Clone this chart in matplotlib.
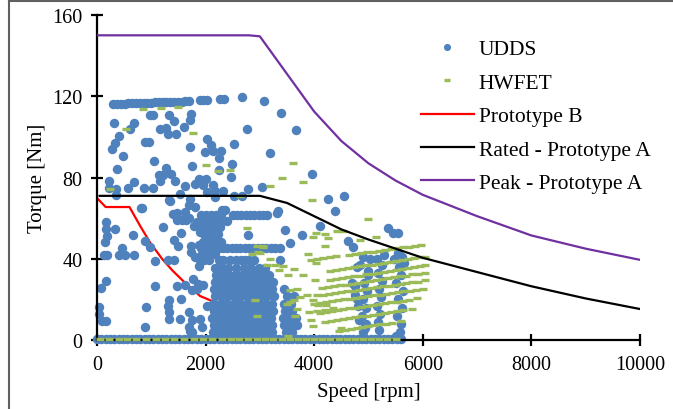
import matplotlib
matplotlib.use("Agg")
import matplotlib.pyplot as plt
from matplotlib.lines import Line2D

plt.rcParams['font.family'] = ['Liberation Serif', 'DejaVu Serif']

# torque-speed envelopes
peak_rpm = [0, 2800, 3000, 4000, 4500, 5000, 5500, 6000, 7000, 8000, 9000, 10000]
peak_nm = [150, 150, 149.5, 112.5, 98, 87, 78.5, 71.5, 61, 51.5, 45, 39.5]
rated_rpm = [50, 3000, 3500, 4000, 4500, 5000, 5500, 6000, 7000, 8000, 9000, 10000]
rated_nm = [71, 71, 67.5, 61, 54.5, 49.5, 45, 40.5, 33.5, 26.5, 20.5, 15.3]
protoB_rpm = [0, 160, 600, 800, 980, 1200, 1400, 1650, 1900, 2140, 2350]
protoB_nm = [70, 65.5, 65.5, 56, 48, 40, 34, 27.5, 21.7, 19, 16.5]

# UDDS operating points (rpm, Nm)
udds_band = [(300, 116.2), (370, 116.3), (440, 116.4), (510, 116.4), (580, 116.5), (650, 116.6),
             (720, 116.6), (790, 116.7), (860, 116.8), (930, 116.8), (1000, 116.9), (1070, 117.0),
             (1140, 117.0), (1210, 117.1), (1280, 117.1), (1350, 117.2), (1420, 117.3), (1490, 117.3),
             (1560, 117.4), (1630, 117.5), (1700, 117.6), (1900, 118.0), (1960, 118.2), (2030, 118.3),
             (2270, 118.7), (2340, 118.8), (2665, 119.8), (3080, 117.6)]
udds_upper = [(3383, 111.8), (2769, 103.7), (3660, 103.2), (307, 107), (675, 107), (614, 103.7),
              (411, 100.4), (980, 110.6), (1030, 110.6), (1320, 111), (1737, 111.4), (1719, 108.2),
              (1424, 107.7), (1166, 104), (1271, 104.6), (1308, 101.3), (1455, 101.4), (1597, 104.9),
              (337, 97.2), (276, 93.9), (890, 97.5), (950, 97.5), (1707, 95), (473, 90.6), (1044, 88),
              (368, 84.4), (1271, 84.7), (1750, 85.7), (1136, 81.4), (1210, 81.4), (1369, 81.6),
              (1155, 78.1), (1431, 78.4), (227, 78.1), (227, 74.8), (676, 77.8), (571, 74.8),
              (871, 74.8), (1026, 74.8), (350, 74.5), (350, 71.2), (1627, 75.8), (1535, 72),
              (1800, 77), (1873, 79.4), (1719, 69.6), (1332, 68.8), (816, 65), (1689, 66.3),
              (1474, 62.5), (1800, 65.5), (2020, 98.8), (2100, 95.9), (1990, 92.6), (2143, 92.9),
              (2284, 93.2), (2253, 89.6), (2530, 96.7), (3187, 92.1), (2481, 86.8), (2247, 83.6),
              (2463, 80.3), (2002, 79.4), (1958, 76.2), (2143, 76.2), (2174, 73.4), (2174, 70.4),
              (2327, 73.4), (2032, 72.9), (2787, 74.5), (3034, 75.3), (2530, 70.8), (2665, 71),
              (3955, 81.6), (2296, 63.9), (2358, 63.9), (3340, 63.4), (4255, 69.6), (4550, 70.8),
              (4390, 63.6)]
udds_mid = [(166, 58), (166, 54.7), (326, 54.7), (184, 51.4), (153, 48.1), (129, 41.9), (179, 41.9),
            (411, 41.9), (521, 41.9), (676, 41.9), (460, 45.3), (657, 51.9), (1210, 55.5), (823, 64.8),
            (890, 48.6), (982, 45.6), (1074, 38.8), (1308, 39.5), (1413, 39.5), (1413, 49.4),
            (1492, 46.1), (1394, 62.2), (1470, 59.2), (1560, 59.2), (1640, 59.2), (1345, 68.6),
            (1553, 52.7), (1737, 46.4), (1873, 46.9), (1737, 43.2), (1873, 36.3), (1800, 41),
            (1620, 63), (1700, 60), (1780, 56), (1850, 58), (1900, 53), (2000, 45.5)]
udds_low = [(171, 28.9), (79, 25.6), (1074, 26.4), (1474, 26.7), (1627, 27.2), (1750, 24.8),
            (1860, 27.7), (1332, 19.7), (1553, 20.2), (1308, 16.6), (1332, 13.6), (1332, 10.3),
            (903, 16.3), (879, 6.4), (31, 16.1), (31, 12.8), (92, 9.2), (166, 9.2), (1535, 10.3),
            (1689, 13.6), (1750, 10), (1689, 6.7), (1719, 4.3), (1945, 27.2), (1774, 30), (1836, 25.1),
            (2020, 16.9), (1897, 10.3), (1930, 6.4), (1750, 3.9)]
udds_block = [
    (2140, 4), (2260, 4), (2380, 4), (2500, 4), (2620, 4), (2740, 4), (2860, 4), (2980, 4), (3100, 4),
    (3220, 4), (3480, 4), (3600, 4),
    (2150, 7.5), (2270, 7.5), (2390, 7.5), (2510, 7.5), (2630, 7.5), (2750, 7.5), (2870, 7.5),
    (2990, 7.5), (3110, 7.5), (3230, 7.5), (3450, 7.5), (3560, 7.5), (3680, 7.5),
    (2120, 11), (2240, 11), (2360, 11), (2480, 11), (2600, 11), (2720, 11), (2840, 11), (2960, 11),
    (3080, 11), (3200, 11), (3420, 11), (3540, 11), (3660, 11),
    (2160, 14.5), (2280, 14.5), (2400, 14.5), (2520, 14.5), (2640, 14.5), (2760, 14.5), (2880, 14.5),
    (3000, 14.5), (3120, 14.5), (3240, 14.5), (3470, 14.5), (3600, 14.5),
    (2140, 18), (2260, 18), (2380, 18), (2500, 18), (2620, 18), (2740, 18), (2860, 18), (2980, 18),
    (3100, 18), (3220, 18), (3440, 18), (3570, 18),
    (2180, 21.5), (2300, 21.5), (2420, 21.5), (2540, 21.5), (2660, 21.5), (2780, 21.5), (2900, 21.5),
    (3020, 21.5), (3140, 21.5), (3260, 21.5), (3500, 21.5), (3620, 21.5),
    (2150, 25), (2270, 25), (2390, 25), (2510, 25), (2630, 25), (2750, 25), (2870, 25), (2990, 25),
    (3110, 25), (3230, 25), (3450, 25),
    (2170, 28.5), (2290, 28.5), (2410, 28.5), (2530, 28.5), (2650, 28.5), (2770, 28.5), (2890, 28.5),
    (3010, 28.5), (3130, 28.5), (3250, 28.5),
    (2200, 32), (2320, 32), (2440, 32), (2560, 32), (2680, 32), (2800, 32), (2920, 32), (3040, 32),
    (3160, 32),
    (2180, 35.5), (2300, 35.5), (2420, 35.5), (2560, 35.5), (2700, 35.5), (2840, 35.5), (2980, 35.5),
    (3100, 35.5),
    (1900, 39.5), (1980, 39.5), (2060, 39.5), (2250, 39.5), (2330, 39.5), (2450, 39.5), (2560, 39.5),
    (2650, 39.5), (2720, 39.5), (2800, 39.5), (2900, 39.5), (3371, 39.5),
    (1930, 42.5), (2010, 42.5), (2090, 42.5), (2170, 42.5),
    (1920, 45.2), (2000, 45.2), (2080, 45.2), (2160, 45.2), (2240, 45.2), (2320, 45.2), (2400, 45.2),
    (2480, 45.2), (2560, 45.2), (2640, 45.2), (2720, 45.2), (2800, 45.2), (2880, 45.2), (2960, 45.2),
    (3040, 45.2), (3120, 45.2), (3200, 45.2), (3280, 45.2), (3380, 45.2),
    (1950, 48.5), (2040, 48.5), (2120, 48.5), (2200, 48.5), (2290, 48.5),
    (1980, 52), (2060, 52), (2150, 52), (2230, 52), (2787, 51.9), (3463, 54.3), (3770, 51.9),
    (3555, 47.8),
    (1910, 55.5), (2000, 55.5), (2090, 55.5), (2180, 55.5), (2270, 55.5),
    (1940, 58.5), (2030, 58.5), (2120, 58.5), (2210, 58.5), (2300, 58.5), (2390, 58.5),
    (1920, 61.5), (2010, 61.5), (2100, 61.5), (2190, 61.5), (2290, 61.5), (2500, 61.5), (2580, 61.5),
    (2660, 61.5), (2740, 61.5), (2820, 61.5), (2900, 61.5), (2980, 61.5), (3060, 61.5), (3130, 61.5),
    (3310, 62.5)]
udds_high = [(4900, 4), (4950, 8), (4880, 12), (4950, 16), (4900, 20), (4980, 24), (4920, 28),
             (4990, 32), (4992, 33.8), (4850, 37), (4780, 36), (4700, 28), (4760, 22), (4800, 17),
             (4820, 10), (4930, 6), (5200, 5), (5180, 9), (5220, 13), (5160, 17), (5230, 21),
             (5190, 25), (5250, 29), (5180, 33), (5240, 37), (5160, 40), (5280, 42), (5500, 2),
             (5580, 3.9), (5600, 8), (5520, 12), (5620, 16), (5550, 20), (5640, 24), (5500, 28),
             (5600, 32), (5560, 36), (5650, 38), (5470, 40), (5620, 41), (5540, 43), (4100, 56),
             (5360, 55), (5450, 52.7), (5545, 52.7), (4624, 48.7), (4716, 45.8), (4900, 41),
             (5030, 40), (4750, 26.6), (4790, 20.2), (4937, 7)]
udds_floor_rpm = [0, 80, 160, 240, 320, 400, 480, 560, 640, 720, 800, 880, 960, 1040, 1120, 1200,
                  1280, 1360, 1440, 1520, 1600, 1680, 1760, 1840, 1920, 2000, 2080, 2160, 2240, 2320,
                  2400, 2480, 2560, 2640, 2720, 2800, 2880, 2960, 3040, 3120, 3200, 3280, 3360, 3440,
                  3520, 3600, 3680, 3760, 3840, 3920, 4000, 4080, 4160, 4240, 4320, 4400, 4480, 4560,
                  4640, 4720, 4800, 4880, 4960, 5040, 5120, 5200, 5280, 5360, 5440, 5520, 5600]

# HWFET operating points (rpm, Nm)
hwfet_sparse = [(853, 113.7), (1179, 114), (1498, 114.6), (534, 103.9), (1774, 101.8), (2002, 86.2),
                (2235, 83.4), (2450, 83.7), (2634, 71), (3187, 75.7), (3402, 79.6), (3616, 87),
                (3800, 77.9), (3966, 68.9), (239, 74.4), (2757, 55), (3052, 45.9), (2971, 43.5),
                (2941, 46.1), (3063, 46.4), (2850, 42.3), (3000, 42.8), (3126, 36.8), (3187, 39.9),
                (3270, 37), (3352, 34.6), (3420, 36.3), (3512, 32.2), (3634, 35), (3800, 32.2),
                (3980, 50.7), (4200, 52.2), (4420, 53.7), (3555, 24.8), (3678, 25.1), (3500, 18),
                (3620, 19.5), (3740, 21), (3860, 22), (2910, 19.8), (2941, 12), (3555, 18.7),
                (3680, 15.3), (3647, 12), (3900, 14), (4050, 14.5), (4200, 15), (4350, 16), (3985, 7),
                (3524, 1.8), (4992, 59.6), (4531, 53.5), (4255, 50.2), (4839, 49.4), (5145, 50.7),
                (4040, 52.7), (4194, 46.1), (3887, 42.5), (4010, 29.7), (3979, 19.8), (4070, 17.4),
                (4220, 17.4), (3948, 10), (4500, 5.9), (4040, 37.9)]
hwfet_streaks = [
    (3950, 39.5), (4060, 40), (4170, 40.5), (4290, 41), (4400, 41.5),
    (4650, 42), (4760, 42.4), (4870, 42.8), (4980, 43.2), (5090, 43.6), (5200, 44), (5310, 44.4),
    (5420, 44.8), (5530, 45.2), (5640, 45.6), (5750, 46), (5860, 46.4), (5970, 46.8),
    (4300, 34), (4410, 34.5), (4520, 35), (4630, 35.4), (4740, 35.9), (4850, 36.3), (4960, 36.8),
    (5070, 37.2), (5180, 37.7), (5290, 38.1), (5400, 38.6), (5510, 39), (5620, 39.5), (5730, 39.9),
    (5840, 40.4), (5950, 40.8), (6050, 41),
    (4300, 29.5), (4410, 30), (4520, 30.5), (4630, 30.9), (4740, 31.4), (4850, 31.8), (4960, 32.3),
    (5070, 32.7), (5180, 33.2), (5290, 33.6), (5400, 34.1), (5510, 34.5), (5620, 35), (5730, 35.4),
    (5840, 35.9), (5950, 36.3), (6050, 37),
    (4150, 25.5), (4260, 26), (4370, 26.4), (4480, 26.9), (4590, 27.3), (4700, 27.8), (4810, 28.2),
    (4920, 28.7), (5030, 29.1), (5140, 29.6), (5250, 30), (5360, 30.5), (5470, 30.9), (5580, 31.4),
    (5690, 31.8), (5800, 32.3), (5910, 32.7), (6050, 33),
    (4050, 22), (4160, 22.4), (4270, 22.8), (4380, 23.2), (4490, 23.6), (4600, 24), (4710, 24.4),
    (4820, 24.8), (4930, 25.2), (5040, 25.6), (5150, 26), (5260, 26.4), (5370, 26.8), (5480, 27.2),
    (5590, 27.6), (5700, 28), (5810, 28.4), (5920, 28.8), (6050, 29.5),
    (4000, 18), (4110, 18.4), (4220, 18.8), (4330, 19.2), (4440, 19.6), (4550, 20), (4660, 20.4),
    (4770, 20.8), (4880, 21.2), (4990, 21.6), (5100, 22), (5210, 22.4), (5320, 22.8), (5430, 23.2),
    (5540, 23.6), (5650, 24), (5760, 24.4), (5870, 24.8), (6000, 25),
    (4100, 13.5), (4210, 13.9), (4320, 14.3), (4430, 14.8), (4540, 15.2), (4650, 15.6), (4760, 16),
    (4870, 16.5), (4980, 16.9), (5090, 17.3), (5200, 17.7), (5310, 18.2), (5420, 18.6), (5530, 19),
    (5640, 19.4), (5750, 19.9), (5900, 20.5),
    (4200, 9), (4310, 9.4), (4420, 9.9), (4530, 10.3), (4640, 10.8), (4750, 11.2), (4860, 11.7),
    (4970, 12.1), (5080, 12.6), (5190, 13), (5300, 13.5), (5410, 13.9), (5520, 14.4), (5630, 14.8),
    (5800, 15.5),
    (4450, 4.5), (4560, 5), (4670, 5.4), (4780, 5.9), (4890, 6.3), (5000, 6.8), (5110, 7.2),
    (5220, 7.7), (5330, 8.1), (5440, 8.6), (5600, 9.5)]
hwfet_floor_rpm = [60, 230, 400, 560, 720, 900, 1080, 1250, 1420, 1600, 1780, 1950, 2120, 2300, 2460,
                   2620, 2780, 2940, 3090, 3250, 3400, 3550, 3700, 3850, 4000, 4150, 4300, 4450, 4600,
                   4750, 4900, 5050, 5200, 5350, 5500]

udds = udds_band + udds_upper + udds_mid + udds_low + udds_block + udds_high
udds += [(r, 0.4) for r in udds_floor_rpm]
hwfet = hwfet_sparse + hwfet_streaks + [(r, 0.5) for r in hwfet_floor_rpm]

fig = plt.figure(figsize=(6.73, 4.10), dpi=100)
ax = fig.add_axes([0.144, 0.168, 0.807, 0.793])

ax.plot([p[0] for p in udds], [p[1] for p in udds], 'o', color='#4F81BD', markersize=6.8,
        markeredgewidth=0, label='UDDS', clip_on=False, zorder=2)
ax.plot([p[0] for p in hwfet], [p[1] for p in hwfet], '_', color='#9BBB59', markersize=5.4,
        markeredgewidth=2.4, label='HWFET', clip_on=False, zorder=3)
# Prototype B sits under the scatter cloud
ax.plot(protoB_rpm, protoB_nm, color='#FF0000', lw=1.6, label='Prototype B', zorder=1.5)
ax.plot(rated_rpm, rated_nm, color='black', lw=1.6, label='Rated - Prototype A', zorder=4)
ax.plot(peak_rpm, peak_nm, color='#7030A0', lw=1.6, label='Peak - Prototype A', zorder=4)

ax.set_xlim(0, 10000)
ax.set_ylim(0, 160)
ax.set_xticks([0, 2000, 4000, 6000, 8000, 10000])
ax.set_yticks([0, 40, 80, 120, 160])
for s in ['top', 'right']:
    ax.spines[s].set_visible(False)
for s in ['left', 'bottom']:
    ax.spines[s].set_linewidth(1.6)
ax.tick_params(direction='inout', length=9, width=1.6, labelsize=14.5, pad=6)
ax.set_xlabel('Speed [rpm]', fontsize=15, labelpad=6)
ax.set_ylabel('Torque [Nm]', fontsize=15, labelpad=4)

leg = ax.legend(loc='upper left', bbox_to_anchor=(0.58, 0.952), frameon=False, fontsize=15.5,
                handlelength=2.5, handletextpad=0.2, labelspacing=0.62, borderaxespad=0,
                markerscale=0.75)

# outer frame (left and top edges)
fig.add_artist(Line2D([0.014, 0.014], [0, 0.995], color='#606060', lw=1.5))
fig.add_artist(Line2D([0.014, 1.0], [0.995, 0.995], color='#606060', lw=1.5))

fig.savefig('out.png', dpi=100)
